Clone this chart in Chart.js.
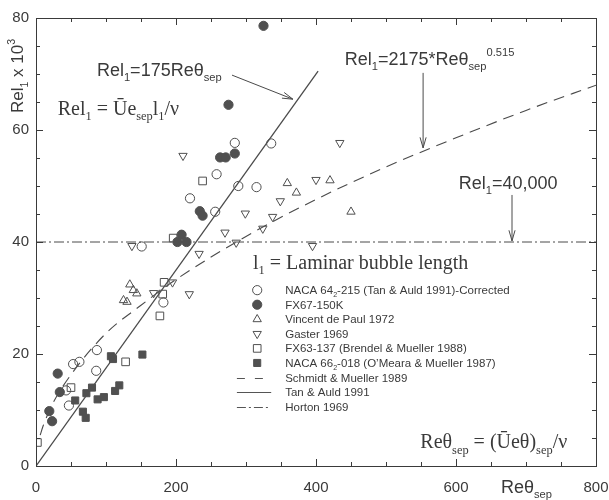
<!DOCTYPE html>
<html>
<head>
<meta charset="utf-8">
<script src="https://cdn.jsdelivr.net/npm/chart.js@4.4.1/dist/chart.umd.min.js"></script>
<style>
  html, body { margin: 0; padding: 0; background: #fff; }
  #wrap { width: 609px; height: 500px; }
</style>
</head>
<body>
<div id="wrap"><canvas id="chart" width="609" height="500"></canvas></div>
<script>
// values (Rel1 in thousands)
const nacaTanX = [47, 43, 53, 62, 86, 87, 182, 151, 220, 256, 258, 284, 289, 315, 336];
const nacaTanY = [10.8, 13.5, 18.2, 18.6, 17.0, 20.7, 29.2, 39.2, 47.8, 45.4, 52.1, 57.7, 50.0, 49.8, 57.6];

const fx67X = [19, 23, 34, 31, 202, 208, 215, 234, 238, 263, 271, 284, 275, 325];
const fx67Y = [9.8, 8.0, 13.2, 16.5, 40.0, 41.3, 40.0, 45.5, 44.7, 55.1, 55.1, 55.8, 64.5, 78.6];

const vincentX = [125, 130, 134, 139, 144, 359, 372, 420, 450];
const vincentY = [29.6, 29.3, 32.4, 31.4, 30.8, 50.5, 48.8, 51.0, 45.4];

const gasterX = [168, 195, 219, 137, 233, 210, 270, 286, 299, 324, 338, 349, 395, 400, 434];
const gasterY = [30.9, 32.8, 30.7, 39.3, 37.9, 55.4, 41.7, 39.9, 45.1, 42.4, 44.5, 47.3, 39.3, 51.1, 57.7];

const fx63X = [2, 50, 128, 177, 181, 183, 196, 238];
const fx63Y = [4.2, 14.0, 18.6, 26.8, 30.7, 32.8, 40.7, 50.9];

const naca66X = [56, 67, 71, 72, 80, 88, 97, 107, 110, 113, 119, 152];
const naca66Y = [11.7, 9.7, 8.6, 13.0, 14.0, 11.9, 12.3, 19.6, 19.1, 13.4, 14.4, 19.9];

// correlation curves as traced in the figure
const schmidtX = [6, 10, 25, 50, 100, 150, 200, 300, 400, 500, 600, 700, 800];
const schmidtY = [5.5, 7.1, 11.4, 16.3, 23.7, 28.7, 33.3, 41.0, 47.6, 53.4, 58.6, 63.5, 68.0];

const tanX = [0, 403];
const tanY = [0, 70.5];

const hortonX = [0, 800];
const hortonY = [40, 40];

const xTickLabels = [0, 200, 400, 600, 800];
const yTickLabels = [0, 20, 40, 60, 80];

const legendLabels = [
  [['NACA 64', 0], ['2', 1], ['-215 (Tan & Auld 1991)-Corrected', 0]],
  [['FX67-150K', 0]],
  [['Vincent de Paul 1972', 0]],
  [['Gaster 1969', 0]],
  [['FX63-137 (Brendel & Mueller 1988)', 0]],
  [['NACA 66', 0], ['2', 1], ['-018 (O\u2019Meara & Mueller 1987)', 0]],
  [['Schmidt & Mueller 1989', 0]],
  [['Tan & Auld 1991', 0]],
  [['Horton 1969', 0]]
];

const SANS = '"Liberation Sans", Arial, sans-serif';
const SERIF = '"Liberation Serif", "Times New Roman", serif';
const INK = '#3a3a3a';
const MARK = '#505050';

function pts(xs, ys) {
  return xs.map((v, i) => ({ x: v, y: ys[i] }));
}

// draw text with sub (1) / superscript (2) pieces, left aligned at baseline
function rich(ctx, x, y, parts, size, family) {
  let cx = x;
  parts.forEach(([t, kind]) => {
    let s = size, dy = 0;
    if (kind === 1) { s = size * 0.62; dy = size * 0.28; }
    if (kind === 2) { s = size * 0.62; dy = -size * 0.5; }
    ctx.font = s + 'px ' + family;
    ctx.fillText(t, cx, y + dy);
    cx += ctx.measureText(t).width;
  });
  return cx - x;
}

function arrow(ctx, x1, y1, x2, y2) {
  const a = Math.atan2(y2 - y1, x2 - x1);
  const h = 11, spread = 0.28;
  ctx.beginPath();
  ctx.moveTo(x1, y1);
  ctx.lineTo(x2, y2);
  ctx.moveTo(x2 - h * Math.cos(a - spread), y2 - h * Math.sin(a - spread));
  ctx.lineTo(x2, y2);
  ctx.lineTo(x2 - h * Math.cos(a + spread), y2 - h * Math.sin(a + spread));
  ctx.stroke();
}

const markerStyles = [
  { pointStyle: 'circle', radius: 4.6, rotation: 0, fill: false },
  { pointStyle: 'circle', radius: 4.6, rotation: 0, fill: true },
  { pointStyle: 'triangle', radius: 4.8, rotation: 0, fill: false },
  { pointStyle: 'triangle', radius: 4.8, rotation: 180, fill: false },
  { pointStyle: 'rect', radius: 5.4, rotation: 0, fill: false },
  { pointStyle: 'rect', radius: 5.0, rotation: 0, fill: true }
];

function markerSet(label, data, m) {
  return {
    label: label,
    data: data,
    showLine: false,
    pointStyle: m.pointStyle,
    pointRadius: m.radius,
    pointRotation: m.rotation,
    pointBorderWidth: 1,
    pointBorderColor: MARK,
    pointBackgroundColor: m.fill ? MARK : 'rgba(0,0,0,0)',
    order: 1
  };
}

function lineSet(label, data, dash, width, tension) {
  return {
    label: label,
    data: data,
    showLine: true,
    borderColor: '#4a4a4a',
    borderWidth: width,
    borderDash: dash,
    pointRadius: 0,
    fill: false,
    tension: tension,
    cubicInterpolationMode: tension ? 'monotone' : 'default',
    order: 2
  };
}

const decor = {
  id: 'decor',
  beforeDraw(chart) {
    const ctx = chart.ctx;
    ctx.save();
    ctx.fillStyle = '#fff';
    ctx.fillRect(0, 0, chart.width, chart.height);
    ctx.restore();
  },
  afterDraw(chart) {
    const { ctx, chartArea: a, scales: { x, y } } = chart;
    const X = v => x.getPixelForValue(v);
    const Y = v => y.getPixelForValue(v);
    ctx.save();

    // frame and inward ticks
    ctx.strokeStyle = INK;
    ctx.lineWidth = 1;
    ctx.strokeRect(Math.round(a.left) + 0.5, Math.round(a.top) + 0.5,
      Math.round(a.right - a.left), Math.round(a.bottom - a.top));
    ctx.beginPath();
    for (let v = 0; v <= 800; v += 50) {
      const px = Math.round(X(v)) + 0.5;
      const len = v % 200 === 0 ? 7 : 4;
      ctx.moveTo(px, a.bottom); ctx.lineTo(px, a.bottom - len);
      ctx.moveTo(px, a.top); ctx.lineTo(px, a.top + len);
    }
    for (let v = 0; v <= 80; v += 5) {
      const py = Math.round(Y(v)) + 0.5;
      const len = v % 20 === 0 ? 7 : 4;
      ctx.moveTo(a.left, py); ctx.lineTo(a.left + len, py);
      ctx.moveTo(a.right, py); ctx.lineTo(a.right - len, py);
    }
    ctx.stroke();

    ctx.fillStyle = INK;

    // x tick labels, centred on the ticks
    ctx.font = '15px ' + SANS;
    ctx.textAlign = 'center';
    ctx.textBaseline = 'middle';
    xTickLabels.forEach(v => ctx.fillText(String(v), X(v), a.bottom + 22));

    ctx.textBaseline = 'alphabetic';
    ctx.textAlign = 'left';

    // axis titles
    ctx.save();
    ctx.translate(23, 113);
    ctx.rotate(-Math.PI / 2);
    rich(ctx, 0, 0, [['Rel', 0], ['1', 1], [' x 10', 0], ['3', 2]], 17, SANS);
    ctx.restore();
    rich(ctx, 501, 493, [['Re\u03b8', 0], ['sep', 1]], 18, SANS);

    // annotations
    rich(ctx, X(87), Y(69.6), [['Rel', 0], ['1', 1], ['=175Re\u03b8', 0], ['sep', 1]], 18, SANS);
    rich(ctx, X(31), Y(62.7), [['Rel', 0], ['1', 1], [' = \u016Ae', 0], ['sep', 1], ['l', 0], ['1', 1], ['/\u03bd', 0]], 20, SERIF);
    rich(ctx, X(441), Y(71.6), [['Rel', 0], ['1', 1], ['=2175*Re\u03b8', 0], ['sep', 1], ['0.515', 2]], 18, SANS);
    rich(ctx, X(604), Y(49.5), [['Rel', 0], ['1', 1], ['=40,000', 0]], 18, SANS);
    rich(ctx, X(310), Y(35.2), [['l', 0], ['1', 1], [' = Laminar bubble length', 0]], 20, SERIF);
    rich(ctx, X(549), Y(3.2), [['Re\u03b8', 0], ['sep', 1], [' = (\u016Ae\u03b8)', 0], ['sep', 1], ['/\u03bd', 0]], 20, SERIF);

    ctx.strokeStyle = '#4a4a4a';
    ctx.lineWidth = 1;
    arrow(ctx, X(280), Y(69.8), X(367), Y(65.5));
    arrow(ctx, X(553), Y(70.2), X(553), Y(56.8));
    arrow(ctx, X(680), Y(48.4), X(680), Y(40.2));

    // legend
    const rowY0 = 31.4, rowStep = 2.6;
    legendLabels.forEach((parts, i) => {
      const cy = Y(rowY0 - i * rowStep);
      if (i < 6) {
        const m = markerStyles[i];
        ctx.strokeStyle = MARK;
        ctx.fillStyle = m.fill ? MARK : 'rgba(0,0,0,0)';
        ctx.lineWidth = 1;
        Chart.helpers.drawPoint(ctx, { pointStyle: m.pointStyle, radius: m.radius, rotation: m.rotation, borderWidth: 1 }, X(316), cy);
      } else {
        ctx.strokeStyle = '#555';
        ctx.lineWidth = 1;
        const dashes = [[8, 10], [], [9, 3, 2, 3]];
        const ends = [X(336), X(336), X(333)];
        ctx.setLineDash(dashes[i - 6]);
        ctx.beginPath();
        ctx.moveTo(X(287), Math.round(cy) + 0.5);
        ctx.lineTo(ends[i - 6], Math.round(cy) + 0.5);
        ctx.stroke();
        ctx.setLineDash([]);
      }
      ctx.fillStyle = INK;
      rich(ctx, X(356), cy + 4, parts, 11.5, SANS);
    });

    ctx.restore();
  }
};

new Chart(document.getElementById('chart'), {
  type: 'scatter',
  data: {
    datasets: [
      markerSet('NACA 64-215 (Tan & Auld 1991)-Corrected', pts(nacaTanX, nacaTanY), markerStyles[0]),
      markerSet('FX67-150K', pts(fx67X, fx67Y), markerStyles[1]),
      markerSet('Vincent de Paul 1972', pts(vincentX, vincentY), markerStyles[2]),
      markerSet('Gaster 1969', pts(gasterX, gasterY), markerStyles[3]),
      markerSet('FX63-137 (Brendel & Mueller 1988)', pts(fx63X, fx63Y), markerStyles[4]),
      markerSet('NACA 66-018 (O\'Meara & Mueller 1987)', pts(naca66X, naca66Y), markerStyles[5]),
      lineSet('Schmidt & Mueller 1989', pts(schmidtX, schmidtY), [11, 7], 1.1, 0.4),
      lineSet('Tan & Auld 1991', pts(tanX, tanY), [], 1.3, 0),
      lineSet('Horton 1969', pts(hortonX, hortonY), [10, 3, 2, 3], 1, 0)
    ]
  },
  options: {
    responsive: false,
    animation: false,
    devicePixelRatio: 1,
    layout: { padding: { top: 18, right: 13, left: 0, bottom: 0 } },
    plugins: {
      legend: { display: false },
      tooltip: { enabled: false }
    },
    scales: {
      x: {
        type: 'linear',
        min: 0,
        max: 800,
        grid: { display: false, drawTicks: false },
        border: { display: false },
        ticks: { display: false, stepSize: 200 },
        afterFit(s) { s.height = 34; s.paddingLeft = 0; s.paddingRight = 0; }
      },
      y: {
        type: 'linear',
        min: 0,
        max: 80,
        grid: { display: false, drawTicks: false },
        border: { display: false },
        ticks: {
          stepSize: 20,
          autoSkip: false,
          padding: 7,
          color: INK,
          font: { family: SANS, size: 15 },
          callback: v => yTickLabels.includes(v) ? String(v) : ''
        },
        afterFit(s) { s.width = 36; s.paddingTop = 0; s.paddingBottom = 0; }
      }
    }
  },
  plugins: [decor]
});
</script>
</body>
</html>
